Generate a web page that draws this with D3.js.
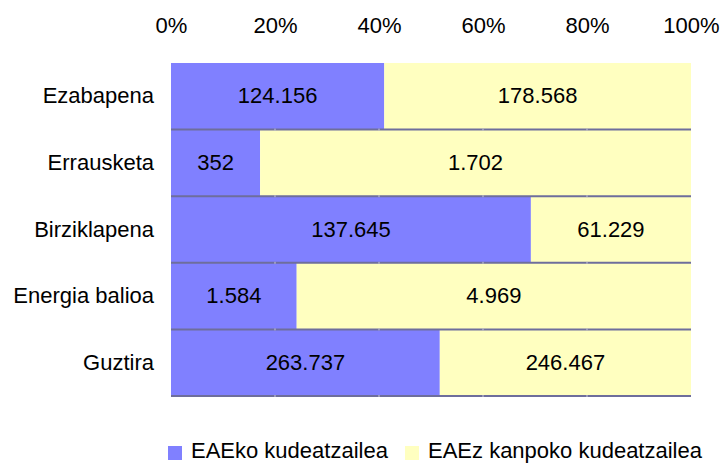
<!DOCTYPE html>
<html lang="eu">
<head>
    <meta charset="UTF-8">
    <title>Kudeatzaileak</title>
    <script src="https://cdn.jsdelivr.net/npm/d3@7"></script>
    <style>
        body { margin: 0; background: #fff; }
        text { font-family: "Liberation Sans", Arial, sans-serif; fill: #000; }
    </style>
</head>
<body>
<svg width="723" height="464"></svg>
<script>
    // datuak
    var categories = ['Ezabapena', 'Errausketa', 'Birziklapena', 'Energia balioa', 'Guztira'];
    var eaeko = [124156, 352, 137645, 1584, 263737];
    var kanpoko = [178568, 1702, 61229, 4969, 246467];
    var seriesNames = ['EAEko kudeatzailea', 'EAEz kanpoko kudeatzailea'];
    var colors = ['#8080ff', '#ffffc0'];
    var tickValues = [0, 0.2, 0.4, 0.6, 0.8, 1];

    var svg = d3.select('svg');
    var marge = {left: 171, right: 691, top: 63, bottom: 396};
    var fs = '22px';

    var x = d3.scaleLinear().domain([0, 1]).range([marge.left, marge.right]);
    var y = d3.scaleBand().domain(categories).range([marge.top, marge.bottom]).padding(0);

    var fmt = function(v) { return d3.format(',')(v).replace(/,/g, '.'); };

    // datuak pilatu ehunekotan
    var rows = categories.map(function(c, i) {
        var tot = eaeko[i] + kanpoko[i];
        return {cat: c, vals: [eaeko[i], kanpoko[i]], tot: tot};
    });

    var g = svg.append('g');
    rows.forEach(function(r) {
        var acc = 0;
        r.vals.forEach(function(v, j) {
            var x0 = x(acc / r.tot), x1 = x((acc + v) / r.tot);
            g.append('rect')
                .attr('x', x0).attr('y', y(r.cat))
                .attr('width', x1 - x0).attr('height', y.bandwidth())
                .attr('fill', colors[j]);
            g.append('text')
                .attr('x', (x0 + x1) / 2)
                .attr('y', y(r.cat) + y.bandwidth() / 2)
                .attr('dy', '0.32em')
                .attr('text-anchor', 'middle')
                .style('font-size', fs)
                .text(fmt(v));
            acc += v;
        });
    });

    // barren arteko lerroak
    categories.forEach(function(c) {
        var yy = y(c) + y.bandwidth();
        svg.append('line')
            .attr('x1', marge.left).attr('x2', marge.right)
            .attr('y1', yy).attr('y2', yy)
            .attr('stroke', '#6e6e9c').attr('stroke-width', 2);
        // sareta-marka txikiak lerroaren gainean
        tickValues.slice(1, -1).forEach(function(t) {
            svg.append('line')
                .attr('x1', x(t)).attr('x2', x(t))
                .attr('y1', yy - 1).attr('y2', yy + 1)
                .attr('stroke', '#c8c8d8').attr('stroke-width', 1);
        });
    });

    // goiko ardatza
    var axisTop = d3.axisTop(x).tickValues(tickValues)
        .tickFormat(d3.format('.0%')).tickSize(0).tickPadding(0);
    svg.append('g')
        .attr('transform', 'translate(0,33)')
        .call(axisTop)
        .call(function(s) { s.select('.domain').remove(); })
        .selectAll('text')
        .style('font-size', fs)
        .style('font-family', '"Liberation Sans", Arial, sans-serif');

    // kategoria etiketak
    var axisLeft = d3.axisLeft(y).tickSize(0).tickPadding(17);
    svg.append('g')
        .attr('transform', 'translate(' + marge.left + ',0)')
        .call(axisLeft)
        .call(function(s) { s.select('.domain').remove(); })
        .selectAll('text')
        .style('font-size', fs)
        .style('font-family', '"Liberation Sans", Arial, sans-serif');

    // legenda
    var legX = [168, 405];
    seriesNames.forEach(function(n, i) {
        svg.append('rect')
            .attr('x', legX[i]).attr('y', 446)
            .attr('width', 14).attr('height', 14)
            .attr('fill', colors[i]);
        svg.append('text')
            .attr('x', legX[i] + 23).attr('y', 458)
            .style('font-size', fs)
            .text(n);
    });
</script>
</body>
</html>
